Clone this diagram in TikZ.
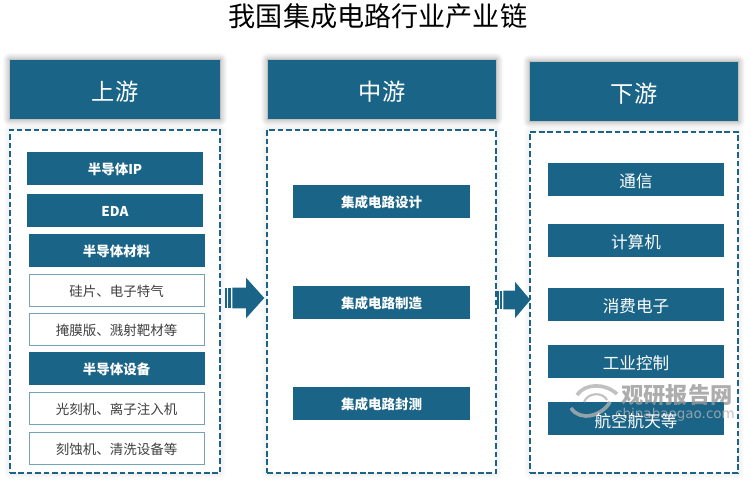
\documentclass[tikz,border=0pt]{standalone}
\usepackage{fontspec}
\setmainfont{Noto Sans CJK SC}
\newfontfamily\wmfont{DejaVu Sans}
\usepackage{tikz}
\usetikzlibrary{shapes.arrows,shadows.blur}
\definecolor{chainblue}{HTML}{1A6487}

\begin{document}
\begin{tikzpicture}[x=0.025cm,y=-0.025cm,inner sep=0pt,
  head node/.style={rectangle,fill=chainblue,text=white,minimum height=1.48cm,text height=15.5pt,text depth=0pt,
    font=\fontsize{16.5}{18}\selectfont,
    blur shadow={shadow xshift=0pt,shadow yshift=0pt,shadow blur steps=8,shadow blur radius=.18cm,shadow opacity=45}},
  frame node/.style={rectangle,draw=chainblue,fill=white,line width=1pt,dash pattern=on 4pt off 2pt,
    blur shadow={shadow xshift=0pt,shadow yshift=0pt,shadow blur steps=6,shadow blur radius=.15cm,shadow opacity=15}},
  item node/.style={rectangle,fill=chainblue,text=white,minimum width=4.4cm,minimum height=.83cm,text height=8.7pt,text depth=0pt,
    font=\fontsize{9.6}{11}\selectfont\bfseries},
  big node/.style={item node,text height=11.8pt,font=\fontsize{11.8}{13}\selectfont},
  plain node/.style={rectangle,draw=chainblue!60,fill=white,line width=.6pt,minimum width=4.38cm,minimum height=.8cm,text height=8.7pt,text depth=0pt,
    text=black!75,font=\fontsize{9.6}{11}\selectfont},
  arrow node/.style={single arrow,anchor=tail,fill=chainblue,text height=.5cm,text depth=0pt,minimum height=.8cm,
    single arrow head extend=.25cm,single arrow tip angle=96},
  small arrow node/.style={arrow node,text height=.45cm,minimum height=.675cm,single arrow head extend=.22cm,single arrow tip angle=100},
  stripe node/.style={rectangle,fill=chainblue,minimum height=.5cm}]

  \useasboundingbox (0,0) rectangle (750,481);

  \node (title) at (378,16) {\fontsize{19.3}{21}\selectfont 我国集成电路行业产业链};

  % upstream
  \node[head node,minimum width=5.25cm] (uphead) at (115,89.5) {上游};
  \node[frame node,minimum width=5.25cm,minimum height=8.58cm] (upframe) at (115,301.5) {};
  \node[item node] (ip) at (115,168.5) {半导体IP};
  \node[item node] (eda) [below of=ip,node distance=1.05cm] {EDA};
  \node[item node] (mat) [below of=eda,node distance=1cm,xshift=.04cm] {半导体材料};
  \node[plain node] (si) [below of=mat,node distance=.99cm] {硅片、电子特气};
  \node[plain node] (mask) [below of=si,node distance=.98cm] {掩膜版、溅射靶材等};
  \node[item node] (equip) [below of=mask,node distance=.98cm] {半导体设备};
  \node[plain node] (litho) [below of=equip,node distance=.99cm] {光刻机、离子注入机};
  \node[plain node] (etch) [below of=litho,node distance=1cm] {刻蚀机、清洗设备等};

  % midstream
  \node[head node,minimum width=5.7cm] (midhead) at (382,89.5) {中游};
  \node[frame node,minimum width=5.72cm,minimum height=8.58cm] (midframe) at (381.5,301.5) {};
  \node[item node] (design) at (381.5,201.5) {集成电路设计};
  \node[item node] (fab) [below of=design,node distance=2.52cm] {集成电路制造};
  \node[item node] (pack) [below of=fab,node distance=2.52cm] {集成电路封测};

  % downstream
  \node[head node,minimum width=5.2cm] (downhead) at (634,91.5) {下游};
  \node[frame node,minimum width=5.2cm,minimum height=8.52cm] (downframe) at (634,302.5) {};
  \node[big node] (comm) at (636,179.5) {通信};
  \node[big node] (pc) [below of=comm,node distance=1.52cm] {计算机};
  \node[big node] (cons) [below of=pc,node distance=1.6cm] {消费电子};
  \node[big node] (ind) [below of=cons,node distance=1.43cm] {工业控制};
  \node[big node] (airbox) [below of=ind,node distance=1.43cm] {};

  % arrows between the columns
  \node[stripe node,minimum width=.05cm] (upbar1) at (226,298) {};
  \node[stripe node,minimum width=.075cm] (upbar2) at (229.5,298) {};
  \node[arrow node] (uparrow) at (232,298) {};
  \node[stripe node,minimum width=.05cm,minimum height=.45cm] (downbar1) at (498,300) {};
  \node[stripe node,minimum width=.05cm,minimum height=.45cm] (downbar2) at (501,300) {};
  \node[small arrow node] (downarrow) at (503,300) {};

  % watermark
  \begin{scope}[opacity=.8]
    \node[text=black!40] (wmname) at (677,395) {\fontsize{15.8}{17}\selectfont\bfseries 观研报告网};
    \node[text=black!30] (wmsite) at (675,415) {\wmfont\fontsize{9.6}{11}\selectfont chinabaogao.com};
    \draw[black!30,line width=2.6pt] (577,395) .. controls (585,383) and (605,383) .. (617,394);
    \draw[black!30,line width=2.6pt] (571,408) .. controls (580,422) and (602,416) .. (610,402);
    \draw[black!30,line width=1.5pt] (584,402) .. controls (588,392) and (603,392) .. (607,400);
  \end{scope}

  \node[big node,fill=none] (air) at (airbox) {航空航天等};

\end{tikzpicture}
\end{document}
